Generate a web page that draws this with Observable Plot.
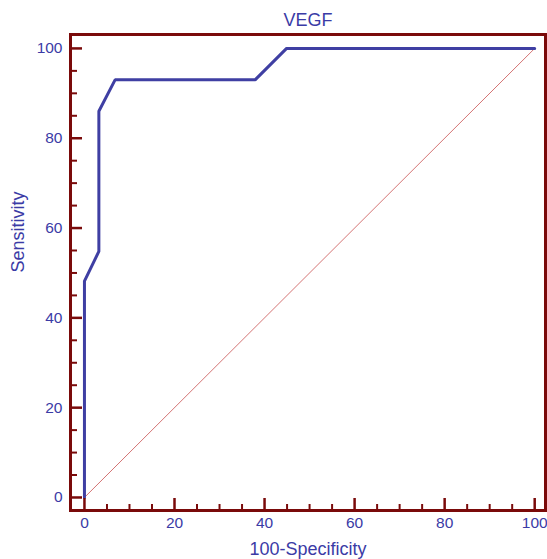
<!DOCTYPE html>
<html>
<head>
<meta charset="utf-8">
<script src="https://cdn.jsdelivr.net/npm/d3@7"></script>
<script src="https://cdn.jsdelivr.net/npm/@observablehq/plot@0.6"></script>
<style>
  body { margin: 0; background: #fff; }
  svg { font-family: "Liberation Sans", Arial, sans-serif; }
</style>
</head>
<body>
<div id="chart"></div>
<script>
// ROC curve data (100-Specificity, Sensitivity)
const rocX = [0, 0, 3.2, 3.2, 6.8, 37.9, 44.9, 100];
const rocY = [0, 48.2, 54.8, 86.0, 93.0, 93.0, 100, 100];
const diagX = [0, 100];
const diagY = [0, 100];
const majorTicks = [0, 20, 40, 60, 80, 100];
const minorTicks = [5, 10, 15, 25, 30, 35, 45, 50, 55, 65, 70, 75, 85, 90, 95];
const title = "VEGF";
const xLabel = "100-Specificity";
const yLabel = "Sensitivity";

const roc = rocX.map((x, i) => ({x, y: rocY[i]}));
const diag = diagX.map((x, i) => ({x, y: diagY[i]}));

const W = 547, H = 559;
const mL = 70, mR = 2, mT = 34, mB = 49;
const innerW = W - mL - mR, innerH = H - mT - mB;
const frameCol = "#7a0a0a";
const textCol = "#3b3ba6";
const lineCol = "#3f3fa3";

const plot = Plot.plot({
  width: W,
  height: H,
  marginLeft: mL, marginRight: mR, marginTop: mT, marginBottom: mB,
  x: {domain: [-3.1, 102.4], axis: null},
  y: {domain: [-2.9, 103.1], axis: null},
  style: {fontFamily: "Liberation Sans, Arial, sans-serif", background: "#fff"},
  marks: [
    // diagonal reference line
    Plot.line(diag, {x: "x", y: "y", stroke: "#d47474", strokeWidth: 1}),
    // ROC curve
    Plot.line(roc, {x: "x", y: "y", stroke: lineCol, strokeWidth: 3, strokeLinejoin: "miter"}),
    // inward ticks on left
    Plot.ruleY(majorTicks, {y: d => d, stroke: frameCol, strokeWidth: 2.5, insetRight: innerW - 12}),
    Plot.ruleY(minorTicks, {y: d => d, stroke: frameCol, strokeWidth: 2, insetRight: innerW - 7}),
    // inward ticks on bottom
    Plot.ruleX(majorTicks, {x: d => d, stroke: frameCol, strokeWidth: 2.5, insetTop: innerH - 12}),
    Plot.ruleX(minorTicks, {x: d => d, stroke: frameCol, strokeWidth: 2, insetTop: innerH - 6}),
    // frame
    Plot.frame({stroke: frameCol, strokeWidth: 3}),
    // tick labels
    Plot.text(majorTicks, {y: d => d, text: d => String(d), frameAnchor: "left", dx: -8, textAnchor: "end", lineAnchor: "middle", fill: textCol, fontSize: 15.5}),
    Plot.text(majorTicks, {x: d => d, text: d => String(d), frameAnchor: "bottom", dy: 13, lineAnchor: "middle", fill: textCol, fontSize: 15.5}),
    // axis titles and chart title
    Plot.text([xLabel], {frameAnchor: "bottom", dy: 39, lineAnchor: "middle", fill: textCol, fontSize: 18}),
    Plot.text([yLabel], {frameAnchor: "left", dx: -52, rotate: -90, lineAnchor: "middle", fill: textCol, fontSize: 18}),
    Plot.text([title], {frameAnchor: "top", dy: -14, lineAnchor: "middle", fill: textCol, fontSize: 18})
  ]
});
document.getElementById("chart").appendChild(plot);
</script>
</body>
</html>
